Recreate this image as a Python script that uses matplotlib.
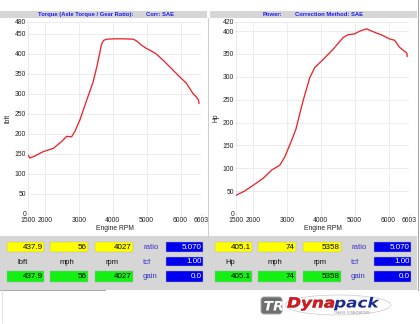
import matplotlib
matplotlib.use("Agg")
import matplotlib.pyplot as plt
from matplotlib.patches import Rectangle, PathPatch, FancyBboxPatch, Ellipse
from matplotlib.textpath import TextPath
from matplotlib.font_manager import FontProperties
from matplotlib.transforms import Affine2D

plt.rcParams['font.family'] = ['Liberation Sans', 'DejaVu Sans']

# ---- dyno run data -------------------------------------------------------
torque_rpm = [1500, 1560, 1700, 1950, 2245, 2490, 2640, 2785, 2880, 3030, 3225,
              3420, 3530, 3610, 3670, 3730, 3815, 4027, 4300, 4600, 4700, 4850,
              4990, 5130, 5285, 5480, 5775, 5950, 6170, 6360, 6470, 6530, 6545]
torque_lbft = [147, 140, 145, 156, 164, 181, 194, 193, 206, 235, 283,
               330, 368, 400, 425, 434, 437, 437.9, 438, 437, 433, 422,
               414, 408, 400, 385, 360, 345, 327, 302, 292, 285, 277]

power_rpm = [1500, 1750, 2010, 2300, 2550, 2795, 2940, 3140, 3265, 3480, 3675,
             3820, 4070, 4360, 4660, 4800, 5000, 5150, 5358, 5440, 5640, 5785,
             6030, 6180, 6320, 6470, 6540, 6550]
power_hp = [41, 50, 63, 78, 96, 107, 125, 161, 185, 248, 298,
            320, 338, 360, 386, 392, 394, 400, 405.1, 402, 396, 392,
            383, 380, 365, 356, 352, 345]

x_ticks = [1500, 2000, 3000, 4000, 5000, 6000, 6603]
torque_yticks = [0, 50, 100, 150, 200, 250, 300, 350, 400, 450, 480]
power_yticks = [0, 50, 100, 150, 200, 250, 300, 350, 400, 420]

# readout values
torque_peak, torque_mph, torque_at_rpm = 437.9, 56, 4027
power_peak, power_mph, power_at_rpm = 405.1, 74, 5358
gear_ratio, tcf, gain = 5.070, 1.00, 0.0

W, H = 420, 324
fig = plt.figure(figsize=(W / 100, H / 100), dpi=100)
fig.patch.set_facecolor('white')

# background canvas in pixel units (y downwards)
bg = fig.add_axes([0, 0, 1, 1], zorder=0)
bg.set_xlim(0, W)
bg.set_ylim(H, 0)
bg.axis('off')

PANEL_GRAY = '#d6d6d6'
HEAD_BLUE = '#1c1cf0'
LABEL_BLUE = '#3434c8'
CURVE_RED = '#e8262c'


def px_axes(x0, x1, y0, y1):
    return fig.add_axes([x0 / W, 1 - y1 / H, (x1 - x0) / W, (y1 - y0) / H], zorder=2)


def chart(x0, x1, xs, ys, yticks, ylab, ylab_x):
    ax = px_axes(x0, x1, 22, 214)
    ax.set_facecolor('none')
    ax.plot(xs, ys, color=CURVE_RED, lw=0.95, solid_joinstyle='round')
    ax.set_xlim(1500, 6603)
    ax.set_ylim(0, yticks[-1])
    ax.set_xticks(x_ticks)
    ax.set_yticks(yticks)
    ax.grid(True, color='#e4e4e4', lw=0.5)
    ax.set_axisbelow(True)
    for s in ax.spines.values():
        s.set_visible(False)
    ax.tick_params(axis='x', labelsize=4.9, length=1.5, width=0.4,
                   color='#c8c8c8', pad=1.0, labelcolor='#222222')
    ax.tick_params(axis='y', labelsize=4.9, length=1.0, width=0.4,
                   color='#c8c8c8', pad=0.4, labelcolor='#222222')
    fig.text((x0 + x1) / 2 / W, 1 - 229 / H, 'Engine RPM', ha='center',
             va='center', fontsize=4.9, color='#222222')
    fig.text(ylab_x / W, 1 - 118 / H, ylab, rotation=90, ha='center',
             va='center', fontsize=4.9, color='#222222')
    return ax


# header bands
bg.add_patch(Rectangle((0, 11), 207, 7, color=PANEL_GRAY, lw=0))
bg.add_patch(Rectangle((209.5, 11), 207, 7, color=PANEL_GRAY, lw=0))
hdr = dict(fontsize=4.2, fontweight='bold', color=HEAD_BLUE, va='center')
bg.text(38, 14.6, 'Torque (Axle Torque / Gear Ratio):', ha='left', **hdr)
bg.text(146, 14.6, 'Corr: SAE', ha='left', **hdr)
bg.text(263, 14.6, 'Power:', ha='left', **hdr)
bg.text(295, 14.6, 'Correction Method: SAE', ha='left', **hdr)

# panel separators
bg.plot([208.3, 208.3], [18, 236], color='#c4c4c4', lw=0.6)
bg.plot([417.5, 417.5], [0, 290], color='#a8a8a8', lw=0.8)

chart(28, 201, torque_rpm, torque_lbft, torque_yticks, 'lbft', 8)
chart(236, 409, power_rpm, power_hp, power_yticks, 'Hp', 216)

# readout panel
bg.add_patch(Rectangle((0, 236), 417, 53.5, color=PANEL_GRAY, lw=0))
bg.plot([0, 105], [290, 290], color='#9a9a9a', lw=0.6)
bg.plot([1.5, 1.5], [290, 322], color='#dddddd', lw=0.6)

YELLOW, GREEN, BLUE = '#ffff00', '#14f014', '#0000f0'
ROW_TOP = (242, 257, 271)
ROW_H = (9.5, 9, 10.5)


def box(x0, x1, row, face, txt, tcolor='black'):
    y0 = ROW_TOP[row]
    h = ROW_H[row]
    bg.add_patch(Rectangle((x0, y0), x1 - x0, h, facecolor=face,
                           edgecolor='#b0b0b0', lw=0.3))
    bg.text(x1 - 1.2, y0 + h / 2 + 0.3, txt, ha='right', va='center',
            fontsize=5.8, color=tcolor)


def readout(dx, unit, peak, mph, rpm, unit_x):
    cols = [(7, 44), (50, 88), (95, 133)]
    vals = [f'{peak:.1f}', f'{mph:d}', f'{rpm:d}']
    for (a, b), v in zip(cols, vals):
        box(a + dx, b + dx, 0, YELLOW, v)
        box(a + dx, b + dx, 2, GREEN, v)
    for name, cx in ((unit, unit_x), ('mph', 67), ('rpm', 112)):
        bg.text(cx + dx, 262, name, ha='center', va='center', fontsize=5.5,
                color='#111111')
    for row, name, v in ((0, 'ratio', f'{gear_ratio:.3f}'),
                         (1, 'tcf', f'{tcf:.2f}'),
                         (2, 'gain', f'{gain:.1f}')):
        yc = ROW_TOP[row] + ROW_H[row] / 2 + 0.6
        bg.text(143 + dx, yc, name, ha='left', va='center', fontsize=5.6,
                color=LABEL_BLUE)
        box(166 + dx, 203 + dx, row, BLUE, v, tcolor='white')


readout(0, 'lbft', torque_peak, torque_mph, torque_at_rpm, 23)
readout(208, 'Hp', power_peak, power_mph, power_at_rpm, 22)


# logo
def word_patch(s, x, y_base, sx, sy, color, prop, edge='none'):
    tp = TextPath((0, 0), s, size=1, prop=prop)
    tr = Affine2D().scale(sx, -sy).translate(x, y_base)
    path = tr.transform_path(tp)
    bg.add_patch(PathPatch(path, facecolor=color, edgecolor=edge, lw=0.3))
    return tp.get_extents().x1 * sx


bg.add_patch(Ellipse((338, 305), 106, 20, fill=False, edgecolor='#c8c8c8',
                     lw=0.5))
bg.add_patch(FancyBboxPatch((261, 297), 21, 17,
                            boxstyle='round,pad=0,rounding_size=3',
                            facecolor='#6e6e6e', edgecolor='#a8a8a8', lw=0.7))
tr_prop = FontProperties(family='DejaVu Sans', weight='bold', style='italic')
word_patch('TR', 263.5, 310.5, 14, 13, 'white', tr_prop)

logo_prop = FontProperties(family='DejaVu Sans', weight='bold', style='italic')
w = word_patch('Dyna', 287, 307.5, 16.8, 14, '#e0161e', logo_prop, '#7a0a0e')
word_patch('pack', 287 + w, 307.5, 16.8, 14, '#1a2c8c', logo_prop)
bg.text(352, 312.6, 'CHASSIS  DYNAMOMETERS', ha='center', va='center',
        fontsize=1.9, color='#8a8a8a')

fig.savefig('out.png', dpi=100)
